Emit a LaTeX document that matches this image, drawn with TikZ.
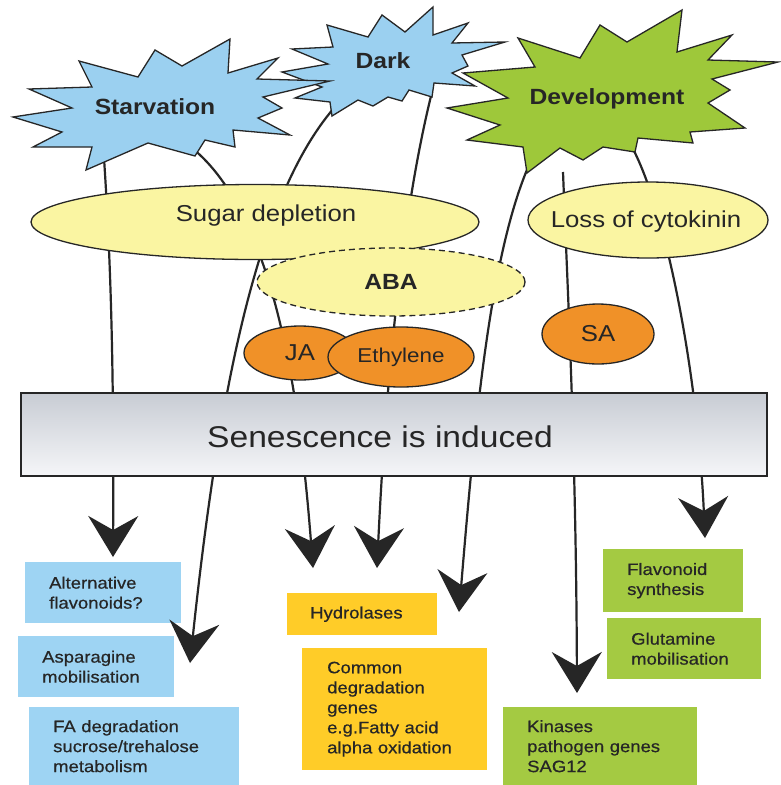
\documentclass[tikz,border=0pt]{standalone}
\usepackage{fontspec}
\setmainfont{Liberation Sans}[FakeStretch=1.12]
\newfontfamily\boitefont{Liberation Sans}[FakeStretch=1.12, FakeBold=0.6]
\usetikzlibrary{shapes.geometric,arrows.meta}

\definecolor{ciel}{RGB}{155,208,240}
\definecolor{herbe}{RGB}{158,200,58}
\definecolor{paille}{RGB}{250,245,162}
\definecolor{agrume}{RGB}{240,145,40}
\definecolor{bleuboite}{RGB}{158,212,243}
\definecolor{jauneboite}{RGB}{255,204,40}
\definecolor{vertboite}{RGB}{164,202,66}
\definecolor{encre}{RGB}{38,38,38}
\definecolor{grisH}{RGB}{200,204,212}
\definecolor{grisB}{RGB}{245,246,248}

\begin{document}
\begin{tikzpicture}[x=1pt, y=-1pt,
  etoile/.style={draw=encre, line width=1.3pt},
  titre/.style={font=\fontsize{22}{26}\selectfont\bfseries, text=encre},
  mot/.style={font=\fontsize{23}{26}\selectfont, text=encre},
  bulle/.style={ellipse, draw=encre, line width=1.3pt, fill=paille, inner sep=0pt, mot},
  hormone/.style={bulle, fill=agrume},
  voie/.style={encre, line width=2.2pt, -{Stealth[length=41pt, width=50pt, inset=14pt]}},
  boite/.style={anchor=north west, inner xsep=24pt, inner ysep=0pt, align=left, text=encre, font=\boitefont\fontsize{16.5}{20}\selectfont}]

  \useasboundingbox (0,0) rectangle (780,785);
  \fill[white] (0,0) rectangle (780,785);

  % Boîtes des réponses (sous les flèches)
  \node[boite, fill=bleuboite, text width=108pt, minimum height=61pt] (altflav) at (25,562) {Alternative\\flavonoids?};
  \node[boite, fill=bleuboite, text width=108pt, minimum height=61pt] (aspar) at (18,636) {Asparagine\\mobilisation};
  \node[boite, fill=bleuboite, text width=162pt, minimum height=78pt] (fadeg) at (29,707) {FA degradation\\sucrose/trehalose\\metabolism};
  \node[boite, fill=jauneboite, text width=104pt, minimum height=42pt, inner xsep=23pt] (hydro) at (287,593) {Hydrolases};
  \node[boite, fill=jauneboite, text width=135pt, minimum height=122pt, inner xsep=25pt] (commun) at (302,648) {Common\\degradation\\genes\\e.g.Fatty acid\\alpha oxidation};
  \node[boite, fill=vertboite, text width=92pt, minimum height=63pt] (flavo) at (603,549) {Flavonoid\\synthesis};
  \node[boite, fill=vertboite, text width=106pt, minimum height=61pt] (gluta) at (607,618) {Glutamine\\mobilisation};
  \node[boite, fill=vertboite, text width=146pt, minimum height=78pt] (kinase) at (503,707) {Kinases\\pathogen genes\\SAG12};

  % Départs (dans les étoiles) et pointes des flèches
  \coordinate (d1) at (104,158); \coordinate (f1) at (113,557);
  \coordinate (d2) at (334,108); \coordinate (f2) at (190,663);
  \coordinate (d3) at (192,148); \coordinate (f3) at (313,568);
  \coordinate (d4) at (432,92);  \coordinate (f4) at (377,568);
  \coordinate (d5) at (529,165); \coordinate (f5) at (459,612);
  \coordinate (d6) at (563,172); \coordinate (f6) at (577,693);
  \coordinate (d7) at (632,147); \coordinate (f7) at (705,538);

  % Voies, cachées ensuite par les bulles et la boîte
  \draw[voie] (d1) .. controls (110,250) and (114,350) .. (f1);
  \draw[voie] (d2) .. controls (255,200) and (218,400) .. (f2);
  \draw[voie] (d3) .. controls (275,215) and (300,400) .. (f3);
  \draw[voie] (d4) .. controls (400,220) and (385,400) .. (f4);
  \draw[voie] (d5) .. controls (490,255) and (475,420) .. (f5);
  \draw[voie] (d6) .. controls (568,300) and (576,450) .. (f6);
  \draw[voie] (d7) .. controls (668,215) and (698,380) .. (f7);

  % Étoiles des stimuli
  \draw[etoile, fill=herbe] (518,38) -- (580,58) -- (600,25) -- (627,42) -- (682,10) -- (677,52) -- (732,35)
    -- (708,60) -- (778,62) -- (712,79) -- (730,90) -- (708,103) -- (745,128) -- (690,132) -- (693,143)
    -- (638,138) -- (635,152) -- (603,147) -- (583,160) -- (560,148) -- (527,173) -- (523,147) -- (467,140)
    -- (500,125) -- (447,108) -- (508,98) -- (463,73) -- (535,67) -- cycle;
  \draw[etoile, fill=ciel] (292,49) -- (333,47) -- (327,25) -- (368,37) -- (382,15) -- (405,32) -- (433,7)
    -- (433,35) -- (468,23) -- (452,43) -- (505,42) -- (462,55) -- (468,66) -- (452,73) -- (475,86)
    -- (434,83) -- (432,97) -- (409,90) -- (402,101) -- (388,97) -- (373,106) -- (358,100) -- (332,116)
    -- (330,102) -- (295,98) -- (322,87) -- (282,72) -- (328,64) -- cycle;
  \draw[etoile, fill=ciel] (13,117) -- (72,108) -- (29,89) -- (92,87) -- (79,61) -- (138,77) -- (155,50)
    -- (182,66) -- (230,39) -- (228,73) -- (278,58) -- (257,79) -- (330,81) -- (263,97) -- (282,108)
    -- (258,118) -- (290,135) -- (233,130) -- (235,147) -- (205,140) -- (195,156) -- (148,143)
    -- (86,170) -- (92,147) -- (33,147) -- (62,132) -- cycle;
  \node[titre] (starv) at (155,107) {Starvation};
  \node[titre] (dark) at (383,61) {Dark};
  \node[titre] (devel) at (607,99) {Development};

  % Signaux intermédiaires
  \node[bulle, minimum width=448pt, minimum height=75pt] (sucre) at (255,222) {};
  \node[mot] (sucretxt) at (266,216) {Sugar depletion};
  \node[bulle, minimum width=240pt, minimum height=76pt] (cyto) at (648,220) {};
  \node[mot] (cytotxt) at (646,222) {Loss of cytokinin};
  \node[bulle, dash pattern=on 6pt off 4pt, minimum width=268pt, minimum height=68pt,
    font=\fontsize{22}{26}\selectfont\bfseries] (aba) at (391,282) {ABA};
  \node[hormone, minimum width=112pt, minimum height=54pt] (ja) at (300,353) {JA};
  \node[hormone, minimum width=146pt, minimum height=60pt, font=\fontsize{20}{24}\selectfont] (ethyl) at (401,357) {Ethylene};
  \node[hormone, minimum width=112pt, minimum height=60pt] (sa) at (598,334) {SA};

  % Sénescence
  \node[draw=encre, line width=1.3pt, top color=grisH, bottom color=grisB,
    minimum width=746pt, minimum height=83pt] (senes) at (394,434.5) {};
  \node[font=\fontsize{30}{34}\selectfont, text=encre] (senestxt) at (380,437) {Senescence is induced};
\end{tikzpicture}
\end{document}
